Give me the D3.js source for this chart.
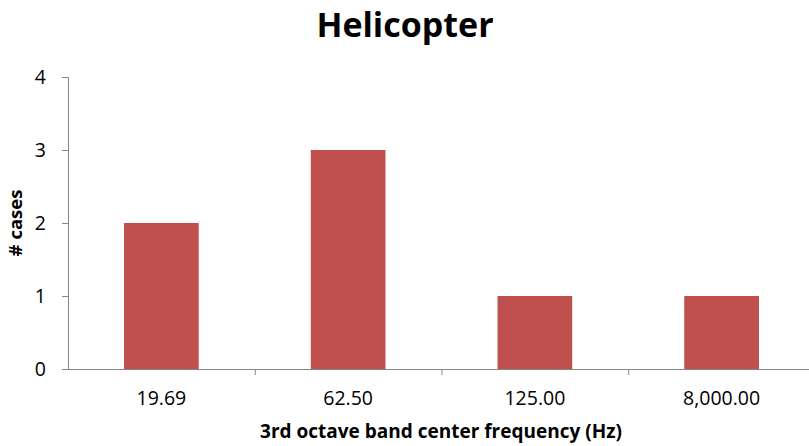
<!DOCTYPE html>
<html>
<head>
<meta charset="utf-8">
<script src="https://cdn.jsdelivr.net/npm/d3@7"></script>
<style>
  html, body { margin: 0; padding: 0; background: #fff; }
  svg { display: block; }
  text { font-family: "Open Sans", Lato, sans-serif; }
</style>
</head>
<body>
<svg id="chart" width="809" height="446"></svg>
<script>
// Number of cases per 3rd-octave band
const categories = ["19.69", "62.50", "125.00", "8,000.00"];
const values = [2, 3, 1, 1];
const yTicks = [0, 1, 2, 3, 4];

const title = "Helicopter";
const xTitle = "3rd octave band center frequency (Hz)";
const yTitle = "# cases";

const svg = d3.select("#chart");
const W = 809, H = 446;
const x0 = 68, x1 = 815;
const yTop = 77, yBot = 369;

const x = d3.scaleBand().domain(categories).range([x0, x1]).paddingInner(0.6).paddingOuter(0.3);
const y = d3.scaleLinear().domain([0, 4]).range([yBot, yTop]);

const axisColor = "#868686";
const font = "'Open Sans', Lato, sans-serif";

// bars
svg.append("g").selectAll("rect").data(values).join("rect")
  .attr("x", (d, i) => x(categories[i]))
  .attr("y", d => y(d))
  .attr("width", x.bandwidth())
  .attr("height", d => y(0) - y(d))
  .attr("fill", "#C0504D");

// y axis
const yAxis = svg.append("g").attr("transform", `translate(${x0},0)`)
  .call(d3.axisLeft(y).tickValues(yTicks).tickSize(6).tickPadding(16).tickFormat(d3.format("d")));
yAxis.select(".domain").attr("stroke", axisColor);
yAxis.selectAll(".tick line").attr("stroke", axisColor);
yAxis.selectAll(".tick text").attr("font-size", 19.5).attr("fill", "#000")
  .style("font-family", font);

// x axis with ticks at band boundaries
const step = x.step();
const bounds = categories.map((c, i) => x0 + i * step).concat([x1]);
const xAxisG = svg.append("g");
xAxisG.append("line").attr("x1", x0).attr("x2", x1).attr("y1", yBot + 0.5).attr("y2", yBot + 0.5)
  .attr("stroke", axisColor);
xAxisG.selectAll("line.tk").data(bounds.slice(1)).join("line").attr("class", "tk")
  .attr("x1", d => d + 0.5).attr("x2", d => d + 0.5)
  .attr("y1", yBot).attr("y2", yBot + 6).attr("stroke", axisColor);
xAxisG.selectAll("text").data(categories).join("text")
  .attr("x", d => x(d) + x.bandwidth() / 2)
  .attr("y", yBot + 36)
  .attr("text-anchor", "middle")
  .attr("font-size", 19.5)
  .text(d => d);

// titles
svg.append("text").attr("x", 405).attr("y", 37).attr("text-anchor", "middle")
  .attr("font-size", 34).attr("font-weight", "bold").text(title);
svg.append("text").attr("x", 441).attr("y", 438).attr("text-anchor", "middle")
  .attr("font-size", 19).attr("font-weight", "bold").text(xTitle);
svg.append("text").attr("transform", "translate(22,223) rotate(-90)").attr("text-anchor", "middle")
  .attr("font-size", 18.5).attr("font-weight", "bold").text(yTitle);
</script>
</body>
</html>
